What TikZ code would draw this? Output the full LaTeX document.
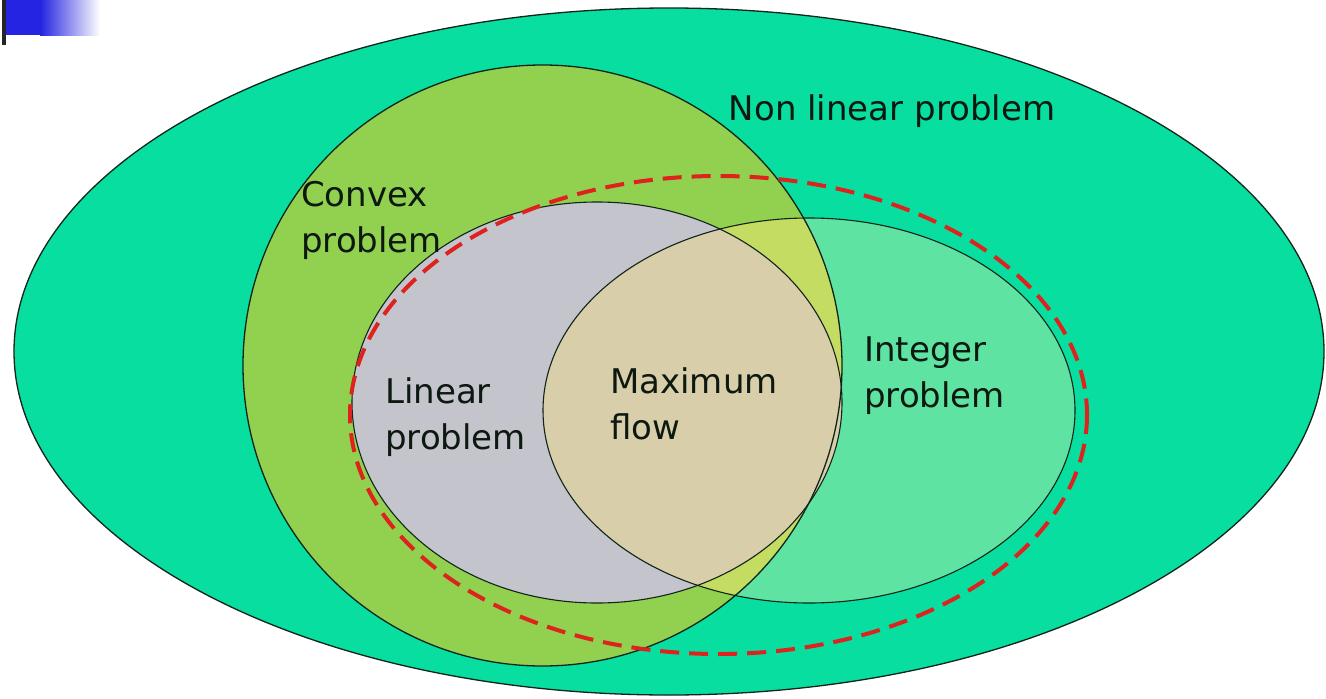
\documentclass[tikz,border=0pt]{standalone}
\usepackage{fontspec}
\setmainfont{DejaVu Sans}
\usetikzlibrary{shapes.geometric}
\definecolor{outerteal}{RGB}{8,222,160}
\definecolor{convexgreen}{RGB}{146,208,80}
\definecolor{lineargrey}{RGB}{196,196,204}
\definecolor{integergreen}{RGB}{94,227,162}
\definecolor{convexint}{RGB}{196,220,98}
\definecolor{flowbeige}{RGB}{216,206,170}
\definecolor{dashred}{RGB}{222,34,30}
\definecolor{edgecol}{RGB}{16,36,26}
\definecolor{textcol}{RGB}{12,24,16}
\definecolor{barblue}{RGB}{36,36,226}
\tikzset{
  setedge/.style={draw=edgecol, line width=1.3pt},
  label/.style={inner sep=0pt, anchor=west, align=left, text=textcol,
    font=\fontsize{34}{46}\selectfont},
}
\begin{document}
\begin{tikzpicture}[x=1pt,y=-1pt]
\useasboundingbox (0,0) rectangle (1326,699);
\fill[white] (0,0) rectangle (1326,699);

% corner bar
\fill[barblue] (5,0) rectangle (40,35);
\shade[left color=barblue, right color=white] (40,0) rectangle (100,35);
\fill[black!85] (2,0) rectangle (6,45);

% region shapes
\def\outerset{(669,351.5) ellipse [x radius=655, y radius=343.5]}
\def\convexset{(542.5,365.5) ellipse [x radius=299.5, y radius=300.5]}
\def\linearset{(597,402.5) ellipse [x radius=245, y radius=200.5]}
\def\integerset{(809,410.5) ellipse [x radius=266, y radius=192.5]}

% fills
\fill[outerteal] \outerset;
\fill[convexgreen] \convexset;
\fill[lineargrey] \linearset;
\fill[integergreen] \integerset;
\begin{scope}
  \clip \convexset;
  \fill[convexint] \integerset;
\end{scope}
\begin{scope}
  \clip \linearset;
  \fill[flowbeige] \integerset;
\end{scope}

% outlines
\draw[setedge] \outerset;
\draw[setedge] \convexset;
\draw[setedge, line width=1.1pt] \linearset;
\draw[setedge, line width=1.1pt] \integerset;

% dashed boundary
\draw[dashred, line width=4pt, dash pattern=on 19pt off 10pt]
  (718.5,415) ellipse [x radius=368.5, y radius=239];

% labels
\node[label, anchor=center] (nonlinear) at (892,111) {Non linear problem};
\node[label] (convex) at (301,220) {Convex\\problem};
\node[label] (linear) at (385,417) {Linear\\problem};
\node[label] (maxflow) at (610,404) {Maximum\\flow};
\node[label] (integer) at (864,376) {Integer\\problem};
\end{tikzpicture}
\end{document}
